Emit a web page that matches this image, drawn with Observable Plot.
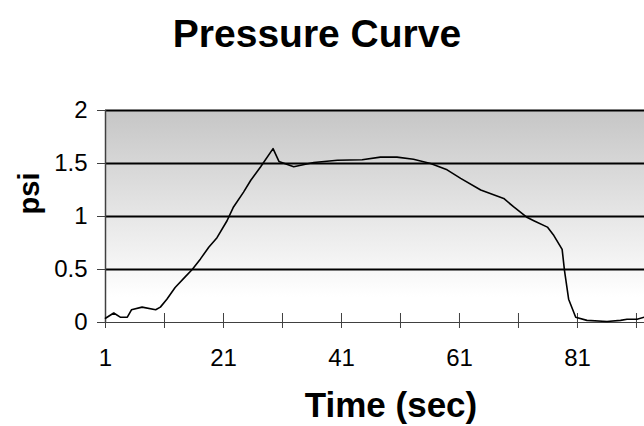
<!DOCTYPE html>
<html><head><meta charset="utf-8">
<script src="https://cdn.jsdelivr.net/npm/d3@7"></script>
<script src="https://cdn.jsdelivr.net/npm/@observablehq/plot@0.6"></script>
<style>
body{margin:0;background:#fff;overflow:hidden;font-family:"Liberation Sans",Arial,sans-serif}
#title{height:70px;width:644px;position:relative}
#title span{position:absolute;left:0;width:634px;text-align:center;top:14px;line-height:39px;font-weight:bold;font-size:39px;color:#000}
#chart svg g[aria-label="y-axis tick label"] text, #chart svg g[aria-label="x-axis tick label"] text{font-size:24px}
</style>
</head><body>
<div id="title"><span>Pressure Curve</span></div>
<div id="chart"></div>
<script>
const titleText = "Pressure Curve";
const xLabel = "Time (sec)";
const yLabel = "psi";
const time = [1, 2.4, 3.5, 4.7, 5.4, 7.2, 9.5, 10.3, 11.4, 12.8, 14.5, 15.7, 17.1, 18.5, 19.9, 21.6, 22.7, 24.4, 25.6, 27.3, 29.4, 30.4, 32.9, 36.3, 40.3, 44.5, 47.6, 50.4, 53.2, 56.1, 58.9, 61.2, 64.6, 68.5, 70.2, 72.5, 73.6, 75.9, 77.0, 78.4, 78.8, 79.5, 80.7, 82.6, 86, 88.3, 89.4, 91.1, 92.3];
const psi = [0.04, 0.09, 0.05, 0.05, 0.12, 0.145, 0.12, 0.145, 0.22, 0.33, 0.43, 0.5, 0.6, 0.71, 0.80, 0.96, 1.09, 1.23, 1.34, 1.47, 1.64, 1.52, 1.47, 1.51, 1.53, 1.535, 1.56, 1.56, 1.54, 1.50, 1.44, 1.36, 1.25, 1.17, 1.09, 0.99, 0.96, 0.90, 0.82, 0.69, 0.49, 0.22, 0.05, 0.02, 0.01, 0.02, 0.03, 0.03, 0.05];
const xTickLabels = [1, 21, 41, 61, 81];
const xTicks = [1, 11, 21, 31, 41, 51, 61, 71, 81, 91];
const yTicks = [0, 0.5, 1, 1.5, 2];
const yGrid = [0.5, 1, 1.5, 2];

const data = time.map((t, i) => ({t, v: psi[i]}));
const font = "Liberation Sans, Arial, sans-serif";

const gradient = () => {
  const defs = d3.create("svg:defs");
  const g = defs.append("linearGradient").attr("id", "bg").attr("x1", 0).attr("y1", 0).attr("x2", 0).attr("y2", 1);
  g.append("stop").attr("offset", "0%").attr("stop-color", "#c6c6c6");
  g.append("stop").attr("offset", "88%").attr("stop-color", "#ffffff");
  g.append("stop").attr("offset", "100%").attr("stop-color", "#ffffff");
  return defs.node();
};

const chart = Plot.plot({
  width: 644, height: 356,
  marginLeft: 105, marginRight: 0, marginTop: 40, marginBottom: 104,
  x: {domain: [1, 92.36]},
  y: {domain: [0, 2]},
  style: {fontFamily: font, fontSize: "24px", background: "white", color: "black"},
  marks: [
    gradient,
    Plot.frame({fill: "url(#bg)", stroke: "none"}),
    Plot.gridY(yGrid, {stroke: "black", strokeOpacity: 1, strokeWidth: 2}),
    Plot.ruleX([time[0]], {stroke: "#404040", strokeWidth: 1.5}),
    Plot.ruleY([0], {stroke: "#404040", strokeWidth: 1.2}),
    Plot.axisY({ticks: yTicks, tickSize: 8, tickPadding: 10, fontSize: 24, tickFormat: d => String(d), label: null, stroke: "#404040", color: "black"}),
    Plot.axisX({ticks: xTicks, tickSize: 15, dy: -9, tickFormat: () => "", label: null, stroke: "#404040"}),
    Plot.axisX({ticks: xTickLabels, tickSize: 0, tickPadding: 26, fontSize: 24, tickFormat: d => String(d), label: null}),
    Plot.line(data, {x: "t", y: "v", stroke: "black", strokeWidth: 1.6}),
    Plot.text([yLabel], {frameAnchor: "left", textAnchor: "middle", rotate: -90, dx: -76, dy: -23, fontSize: 29, fontWeight: "bold", lineAnchor: "middle"}),
    Plot.text([xLabel], {frameAnchor: "bottom", dx: 16, dy: 83, fontSize: 35, fontWeight: "bold", lineAnchor: "middle"})
  ]
});
document.getElementById("chart").append(chart);
</script>
</body></html>
